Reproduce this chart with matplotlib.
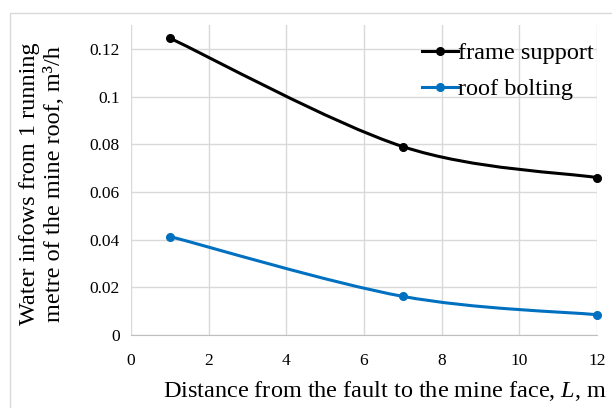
#!/usr/bin/env python3
"""Water inflows vs distance from fault - Excel-style smoothed lines"""
import matplotlib
matplotlib.use('Agg')
import matplotlib.pyplot as plt
from matplotlib.path import Path
from matplotlib.patches import PathPatch, Rectangle
from matplotlib.lines import Line2D

distance = [1, 7, 12]
frame_support = [0.1245, 0.079, 0.066]
roof_bolting = [0.0413, 0.0162, 0.0085]
y_ticks = [0, 0.02, 0.04, 0.06, 0.08, 0.1, 0.12]
y_tick_labels = ["0", "0.02", "0.04", "0.06", "0.08", "0.1", "0.12"]
x_ticks = [0, 2, 4, 6, 8, 10, 12]

FONT = "Liberation Serif"
BLACK = "#000000"
BLUE = "#0070C0"

plt.rcParams["font.family"] = [FONT, "DejaVu Serif"]
plt.rcParams["mathtext.fontset"] = "custom"
plt.rcParams["mathtext.rm"] = FONT
plt.rcParams["mathtext.it"] = FONT + ":italic"


def smooth_path(xs, ys):
    """Bezier path through points, like Excel's smoothed line"""
    pts = list(zip(xs, ys))
    n = len(pts)
    verts = [pts[0]]
    codes = [Path.MOVETO]
    for i in range(n - 1):
        p0 = pts[i - 1] if i > 0 else pts[i]
        p1 = pts[i]
        p2 = pts[i + 1]
        p3 = pts[i + 2] if i + 2 < n else pts[i + 1]
        c1 = (p1[0] + (p2[0] - p0[0]) / 6, p1[1] + (p2[1] - p0[1]) / 6)
        c2 = (p2[0] - (p3[0] - p1[0]) / 6, p2[1] - (p3[1] - p1[1]) / 6)
        verts += [c1, c2, p2]
        codes += [Path.CURVE4] * 3
    return Path(verts, codes)


fig = plt.figure(figsize=(6.12, 4.08), dpi=100)
fig.patch.set_facecolor("white")
# chart border (light gray, runs off right/bottom)
fig.patches.append(Rectangle((10 / 612, -0.05), 1.0, (408 - 13) / 408 + 0.05,
                             transform=fig.transFigure, fill=False,
                             edgecolor="#D9D9D9", linewidth=1.0))

ax = fig.add_axes([131 / 612, 73 / 408, 466 / 612, 310 / 408])
ax.set_xlim(0, 12)
ax.set_ylim(0, 0.13)
ax.set_xticks(x_ticks)
ax.set_yticks(y_ticks)
ax.set_yticklabels(y_tick_labels)
ax.grid(True, color="#D9D9D9", linewidth=1.0)
ax.set_axisbelow(True)
for side in ["top", "right", "left"]:
    ax.spines[side].set_visible(False)
ax.spines["bottom"].set_color("#BFBFBF")
ax.tick_params(axis="y", length=0, labelsize=12.5, pad=8)
ax.tick_params(axis="x", length=0, labelsize=12.5, pad=13)

for ys, col in [(frame_support, BLACK), (roof_bolting, BLUE)]:
    ax.add_patch(PathPatch(smooth_path(distance, ys), fill=False,
                           edgecolor=col, linewidth=2.2, capstyle="round", zorder=3))
    ax.plot(distance, ys, "o", color=col, markersize=5.5, zorder=4, clip_on=False)

handles = [Line2D([], [], color=BLACK, lw=2.2, marker="o", markersize=5.5),
           Line2D([], [], color=BLUE, lw=2.2, marker="o", markersize=5.5)]
ax.legend(handles, ["frame support", "roof bolting"], loc="upper right",
          bbox_to_anchor=(1.03, 1.0), frameon=False, handlelength=1.5,
          handletextpad=0.0, labelspacing=0.58, borderaxespad=0.3,
          prop={"family": FONT, "size": 17.5})

ax.set_xlabel("Distance from the fault to the mine face, $\\mathit{L}$, m",
              fontsize=17.5, labelpad=7, x=0.545)
fig.text(30 / 612, 224 / 408, "Water infows from 1 running", rotation=90,
         ha="center", va="center", fontsize=17.5)
fig.text(55 / 612, 224 / 408, "metre of the mine roof, m³/h", rotation=90,
         ha="center", va="center", fontsize=17.5)

fig.savefig("out.png", dpi=100, facecolor=fig.get_facecolor())
plt.close(fig)
